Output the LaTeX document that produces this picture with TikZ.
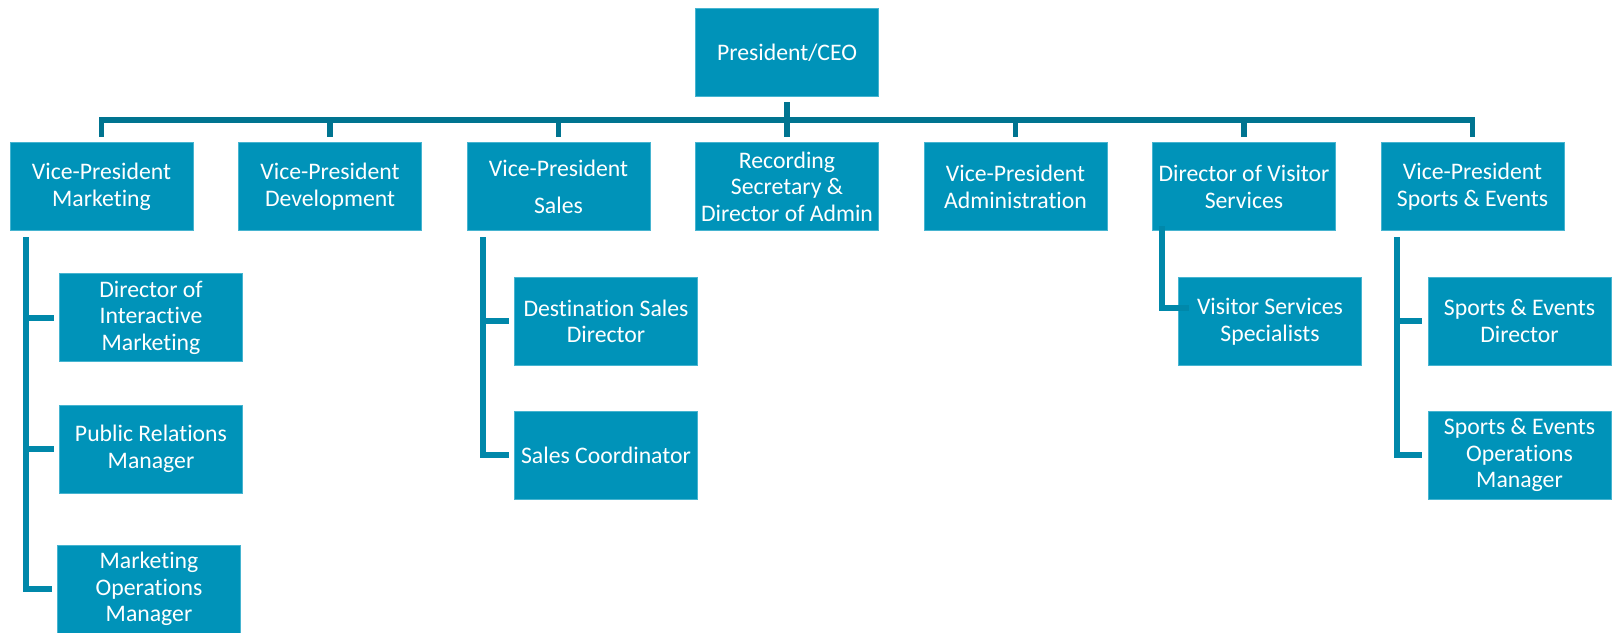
\documentclass[tikz,border=0pt]{standalone}
\usepackage{fontspec}
\setmainfont{Carlito}[Ligatures=CommonOff]
\usetikzlibrary{calc}

\definecolor{boxblue}{RGB}{0,147,185}
\definecolor{boxedge}{RGB}{70,180,208}
\definecolor{busblue}{RGB}{0,116,144}
\definecolor{subblue}{RGB}{0,136,170}

\tikzset{
  unit/.style={rectangle, fill=boxblue, draw=boxedge, line width=0.5pt,
    minimum width=137.25pt, minimum height=66pt, inner sep=0pt,
    align=center, text=white, font=\fontsize{17.8}{20}\selectfont},
  busline/.style={draw=busblue, line width=4.2pt},
  subline/.style={draw=subblue, line width=4.5pt},
}

\begin{document}
\begin{tikzpicture}[x=0.75pt, y=-0.75pt]
\useasboundingbox (0,0) rectangle (1612,632);

% top of the chart
\node[unit] (ceo) at (787,52.7) {President/CEO};

% first level
\node[unit] (vp1) at (101.5,186.7) {Vice-President\\Marketing};
\node[unit] (vp2) at (330,186.7) {Vice-President\\Development};
\node[unit] (vp3) at (558.5,186.7) {Vice-President\\[7.75pt]Sales};
\node[unit] (vp4) at (787,186.7) {Recording\\Secretary \&\\Director of Admin};
\node[unit] (vp5) at (1015.5,186.7) {Vice-President\\Administration};
\node[unit] (vp6) at (1244,186.7) {Director of Visitor\\Services};
\node[unit] (vp7) at (1472.5,186.7) {Vice-President\\Sports \& Events};

% second level
\node[unit] (m1) at (151,317.8) {Director of\\Interactive\\Marketing};
\node[unit] (m2) at (151,449) {Public Relations\\Manager};
\node[unit] (m3) at (149,589) {Marketing\\Operations\\Manager};
\node[unit] (s1) at (606,321.2) {Destination Sales\\Director};
\node[unit] (s2) at (606,455) {Sales Coordinator};
\node[unit] (v1) at (1270,321.5) {Visitor Services\\Specialists};
\node[unit] (e1) at (1519.5,321.2) {Sports \& Events\\Director};
\node[unit] (e2) at (1519.5,455) {Sports \& Events\\Operations\\Manager};

% horizontal bus under the president
\coordinate (bus) at (787,120);
\draw[busline, shorten <=4pt] (ceo.south) -- (ceo |- bus);
\draw[busline, shorten <=4.2pt, shorten >=4.2pt]
  (vp1.north) -- (vp1 |- bus) -- (vp7 |- bus) -- (vp7.north);
\foreach \n in {vp2,vp3,vp4,vp5,vp6}
  \draw[busline, shorten >=4.2pt] (\n |- bus) -- (\n.north);

% marketing branch
\coordinate (mk) at ($(vp1.south west)+(16,6)$);
\draw[subline, shorten >=4pt] (mk) |- ($(m3.west)+(0,-0.3)$);
\foreach \n in {m1,m2}
  \draw[subline, shorten >=4pt] (mk |- \n.west) -- (\n.west);

% sales branch
\coordinate (sk) at ($(vp3.south west)+(16,6)$);
\draw[subline, shorten >=4pt] (sk) |- (s2.west);
\draw[subline, shorten >=4pt] (sk |- s1.west) -- (s1.west);

% visitor services branch
\draw[subline] ($(vp6.south west)+(9.5,-5)$) |- ($(v1.west)+(11,-13.5)$);

% sports & events branch
\coordinate (ek) at ($(vp7.south west)+(16,6)$);
\draw[subline, shorten >=4pt] (ek) |- (e2.west);
\draw[subline, shorten >=4pt] (ek |- e1.west) -- (e1.west);
\end{tikzpicture}
\end{document}
